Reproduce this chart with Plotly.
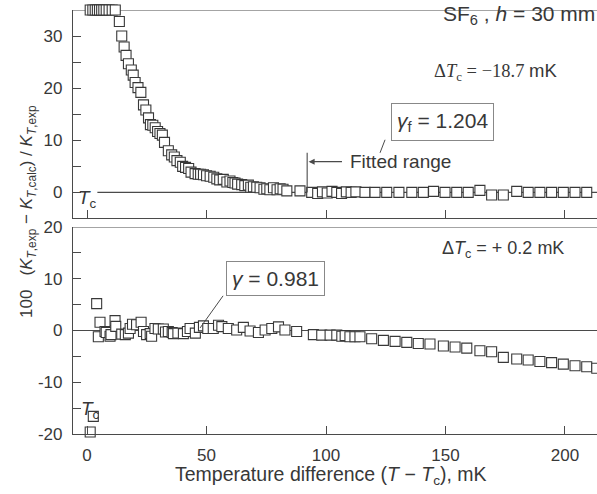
import plotly.graph_objects as go

# ---------------- data ----------------
top_x = [1.3, 2.4, 3.4, 4.3, 5.2, 6.1, 7.0, 8.0, 9.2, 10.5, 11.8,
         13.5, 14.5, 15.5, 16.3, 17.3, 18.5, 19.3, 20.1, 21.3, 22.5, 23.6, 24.6,
         25.7, 26.5, 27.5, 28.5, 29.5, 30.5, 31.5, 32.4, 34.0, 35.4, 36.5, 37.6,
         39.0, 40.0, 41.2, 42.5, 43.5, 45.2, 46.5, 47.5, 48.7, 50.0, 51.5, 53.0,
         54.3, 55.5, 57.0, 58.5, 59.8, 61.0, 61.9, 63.0, 64.7, 66.0, 67.5, 68.5,
         69.6, 71.0, 72.4, 74.0, 75.2, 76.5, 78.0, 79.5, 80.8, 82.0, 83.6, 89.1,
         94.0, 96.5, 98.5, 100.5, 102.5, 104.5, 106.5, 108.5, 110.5, 112.5, 116.3,
         120.5, 125.4, 130.5, 135.9, 140.7, 145.0, 149.8, 154.7, 159.5, 164.4,
         169.3, 174.2, 179.8, 184.6, 189.5, 194.4, 199.3, 204.2, 209.1, 213.5]
top_y = [35, 35, 35, 35, 35, 35, 35, 35, 35, 35, 35,
         32.8, 30.0, 27.9, 26.3, 24.7, 23.5, 22.5, 21.1, 20.1, 19.2, 16.8, 15.8,
         14.3, 13.0, 12.9, 12.4, 11.7, 11.3, 11.0, 9.6, 8.0, 7.2, 6.8, 6.1,
         5.8, 5.0, 4.8, 4.6, 3.9, 3.6, 3.5, 3.5, 3.4, 3.2, 3.1, 2.9,
         2.6, 2.4, 2.5, 2.0, 2.2, 1.9, 1.8, 1.6, 1.5, 1.3, 1.4, 1.0,
         1.1, 1.0, 0.9, 0.6, 0.7, 0.5, 0.9, 0.5, 0.7, 0.6, 0.3, 0.3,
         0.0, -0.2, 0.1, -0.1, 0.2, 0.0, -0.2, 0.1, 0.0, 0.1, 0.0,
         0.0, 0.0, 0.0, 0.0, 0.0, 0.2, 0.0, 0.0, 0.0, 0.4,
         -0.5, -0.5, 0.2, 0.0, 0.0, 0.0, 0.0, 0.0, 0.0, 0.0]

bot_x = [1.3, 2.6, 4.0, 4.7, 5.4, 7.5, 8.0, 9.6, 10.0, 11.7, 12.0, 14.5, 16.0,
         17.3, 18.0, 19.0, 20.7, 22.6, 23.6, 24.9, 26.4, 27.0, 28.4, 29.8, 31.9,
         32.8, 34.0, 35.6, 36.1, 38.0, 40.3, 42.0, 43.1, 45.3, 47.0, 48.7, 50.5,
         52.8, 55.0, 56.4, 59.1, 62.6, 65.4, 68.2, 71.7, 74.5, 77.3, 80.1, 82.8,
         87.7, 94.7, 98.2, 101.7, 104.5, 106.6, 108.0, 110.0, 112.1, 114.2,
         119.1, 124.0, 128.9, 133.8, 138.6, 143.5, 149.1, 154.0, 158.9, 164.4,
         169.3, 174.2, 179.8, 184.6, 189.5, 194.4, 199.3, 204.2, 209.1, 213.3]
bot_y = [-19.6, -16.6, 5.2, -1.2, 1.6, -0.2, -0.4, -1.1, -0.8, 1.9, 0.8, -0.7, -0.8,
         -0.5, 0.4, 1.2, 1.1, 1.6, -0.2, -0.8, -0.6, -1.1, 0.4, 0.3, 0.3,
         -0.3, -0.2, -0.4, -0.6, -0.5, -0.6, -0.2, 0.4, -0.5, 0.6, 0.9, 0.4,
         0.4, 1.0, 0.75, 0.4, 0.1, 0.6, -0.1, -0.4, 0.1, 0.4, 0.7, 0.1,
         -0.2, -0.8, -0.9, -0.9, -0.9, -1.1, -1.0, -1.2, -1.2, -1.2,
         -1.6, -1.9, -2.1, -2.3, -2.5, -2.6, -3.0, -3.2, -3.4, -3.9,
         -4.1, -5.2, -5.5, -5.7, -6.0, -6.2, -6.5, -6.8, -7.0, -7.3]

x_ticks = [0, 50, 100, 150, 200]
top_y_ticks = [0, 10, 20, 30]
top_y_minor = [-5, 5, 15, 25]
bot_y_ticks = [-20, -10, 0, 10, 20]
bot_y_labels = ["-20", "-10", "0", "10", "20"]
bot_y_minor = [-15, -5, 5, 15]

# ---------------- layout constants ----------------
W, H = 597, 494
M_L, M_R, M_T, M_B = 73, 0, 10, 60
X_RANGE = [-5.9, 213.4]
TOP_RANGE = [-5, 35]
BOT_RANGE = [-20, 20]
TOP_DOMAIN = [0.5083, 1.0]
BOT_DOMAIN = [0.0, 0.4882]

INK = "#383838"
LINE = "#4a4a4a"
SANS = "Liberation Sans, Arial, sans-serif"
SERIF = "Liberation Serif, Times New Roman, serif"

marker = dict(symbol="square", size=10, color="white",
              line=dict(color=INK, width=1.1))

fig = go.Figure()
fig.add_trace(go.Scatter(x=top_x, y=top_y, mode="markers", marker=marker,
                         xaxis="x", yaxis="y", cliponaxis=False, showlegend=False))
fig.add_trace(go.Scatter(x=bot_x, y=bot_y, mode="markers", marker=marker,
                         xaxis="x2", yaxis="y2", cliponaxis=False, showlegend=False))

axis_common = dict(showline=True, linecolor=LINE, linewidth=1.2, ticks="inside",
                   ticklen=8, tickcolor=LINE, tickwidth=1.2, showgrid=False,
                   zeroline=False, tickfont=dict(family=SANS, size=17, color=INK))

fig.update_layout(
    width=W, height=H, margin=dict(l=M_L, r=M_R, t=M_T, b=M_B),
    paper_bgcolor="white", plot_bgcolor="white", showlegend=False,
    xaxis=dict(domain=[0, 1], anchor="y", range=X_RANGE, tickvals=x_ticks,
               showticklabels=False, **axis_common),
    xaxis2=dict(domain=[0, 1], anchor="y2", range=X_RANGE, tickvals=x_ticks,
                ticklabelstandoff=5, **axis_common),
    yaxis=dict(domain=TOP_DOMAIN, anchor="x", range=TOP_RANGE, tickvals=top_y_ticks,
               ticklabelstandoff=6,
               minor=dict(ticks="inside", tickvals=top_y_minor, ticklen=8,
                          tickcolor=LINE, tickwidth=1.2),
               **axis_common),
    yaxis2=dict(domain=BOT_DOMAIN, anchor="x2", range=BOT_RANGE, tickvals=bot_y_ticks,
                ticktext=bot_y_labels, ticklabelstandoff=6,
                minor=dict(ticks="inside", tickvals=bot_y_minor, ticklen=8,
                           tickcolor=LINE, tickwidth=1.2),
                **axis_common),
)

# frame tops and zero reference lines
shape_line = dict(color=LINE, width=1.2)
fig.add_shape(type="line", xref="x domain", yref="y", x0=0, x1=1,
              y0=TOP_RANGE[1], y1=TOP_RANGE[1], line=shape_line, layer="below")
fig.add_shape(type="line", xref="x2 domain", yref="y2", x0=0, x1=1,
              y0=BOT_RANGE[1], y1=BOT_RANGE[1], line=shape_line, layer="below")
fig.add_shape(type="line", xref="x", yref="y", x0=4.3, x1=X_RANGE[1],
              y0=0, y1=0, line=shape_line, layer="below")
fig.add_shape(type="line", xref="x2", yref="y2", x0=X_RANGE[0], x1=X_RANGE[1],
              y0=0, y1=0, line=shape_line, layer="below")

# fitted range marker
FIT_EDGE = 92.1
fig.add_shape(type="line", xref="x", yref="y", x0=FIT_EDGE, x1=FIT_EDGE,
              y0=0, y1=7.6, line=dict(color=LINE, width=1.1))
fig.add_annotation(xref="x", yref="y", x=FIT_EDGE + 0.6, y=5.9, ax=107.3, ay=5.9,
                   axref="x", ayref="y", text="", showarrow=True, arrowhead=2,
                   arrowsize=1.1, arrowwidth=1.1, arrowcolor=LINE)
fig.add_annotation(xref="x", yref="y", x=109.0, y=5.9, xanchor="left", yanchor="middle",
                   text="Fitted range", showarrow=False,
                   font=dict(family=SANS, size=19, color=INK))

# gamma boxes + leader lines
fig.add_annotation(xref="x", yref="y", x=148.6, y=13.6, xanchor="center", yanchor="middle",
                   text="<i>γ</i><sub>f</sub> = 1.204", showarrow=False,
                   font=dict(family=SANS, size=21, color=INK),
                   bordercolor="#888", borderwidth=1, borderpad=5, bgcolor="white")
fig.add_shape(type="line", xref="x", yref="y", x0=124.7, y0=10.1, x1=122.6, y1=7.6,
              line=dict(color=LINE, width=1))
fig.add_annotation(xref="x2", yref="y2", x=78.7, y=10.1, xanchor="center", yanchor="middle",
                   text="<i>γ</i> = 0.981", showarrow=False,
                   font=dict(family=SANS, size=21, color=INK),
                   bordercolor="#888", borderwidth=1, borderpad=5, bgcolor="white")
fig.add_shape(type="line", xref="x2", yref="y2", x0=56.9, y0=6.7, x1=47.3, y1=0.5,
              line=dict(color=LINE, width=1))

# labels
fig.add_annotation(xref="paper", yref="y", x=1.0, y=34.0, xanchor="right", yanchor="middle",
                   text="SF<sub>6</sub> , <i>h</i> = 30 mm", showarrow=False,
                   font=dict(family=SANS, size=21, color=INK))
fig.add_annotation(xref="x", yref="y", x=144.4, y=23.1, xanchor="left", yanchor="middle",
                   text="Δ<i>T</i><sub>c</sub> = −18.7 <span style='font-family:Liberation Sans'>mK</span>",
                   showarrow=False, font=dict(family=SERIF, size=18.5, color=INK))
fig.add_annotation(xref="x2", yref="y2", x=147.7, y=15.6, xanchor="left", yanchor="middle",
                   text="Δ<i>T</i><sub>c</sub> = + 0.2 mK", showarrow=False,
                   font=dict(family=SANS, size=18, color=INK))
fig.add_annotation(xref="x", yref="y", x=0.0, y=-1.3, xanchor="center", yanchor="middle",
                   text="<i>T</i><sub>c</sub>", showarrow=False,
                   font=dict(family=SANS, size=19, color=INK))
fig.add_annotation(xref="x2", yref="y2", x=1.3, y=-15.4, xanchor="center", yanchor="middle",
                   text="<i>T</i><sub>c</sub>", showarrow=False,
                   font=dict(family=SANS, size=19, color=INK))

# axis titles
fig.add_annotation(xref="paper", yref="paper", x=(331 - M_L) / (W - M_L - M_R),
                   y=(H - M_B - 475) / (H - M_T - M_B), xanchor="center", yanchor="middle",
                   text="Temperature difference (<i>T</i> − <i>T</i><sub>c</sub>), mK",
                   showarrow=False, font=dict(family=SANS, size=19.5, color=INK))
fig.add_annotation(xref="paper", yref="paper", x=(28 - M_L) / (W - M_L - M_R),
                   y=(H - M_B - 212) / (H - M_T - M_B), xanchor="center", yanchor="middle",
                   textangle=-90,
                   text="100   (<i>K</i><sub><i>T</i>,exp</sub> − <i>K</i><sub><i>T</i>,calc</sub>) / <i>K</i><sub><i>T</i>,exp</sub>",
                   showarrow=False, font=dict(family=SANS, size=17, color=INK))

fig.write_html("out.html")
